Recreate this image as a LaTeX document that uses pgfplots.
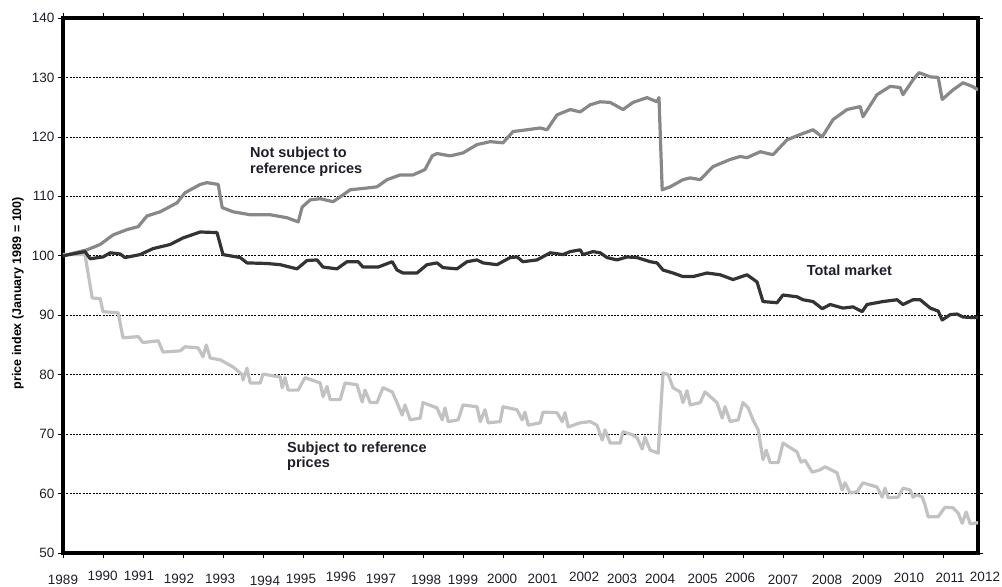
\documentclass[border=0pt]{standalone}
\usepackage{pgfplots}
\pgfplotsset{compat=1.18}
\usepackage{fontspec}
\setmainfont{Liberation Sans}
\definecolor{ns}{HTML}{888888}
\definecolor{tm}{HTML}{333333}
\definecolor{sr}{HTML}{C2C2C2}
\definecolor{txt}{HTML}{1E1E28}
\newcommand{\tfont}{\fontsize{13.5}{16}\selectfont}
\newcommand{\afont}{\bfseries\fontsize{14.5}{16}\selectfont}

\begin{document}
\begin{tikzpicture}
\begin{axis}[name=ax, scale only axis, width=915pt, height=535pt,
  xmin=1989, xmax=2011.875, ymin=50, ymax=140,
  axis line style={line width=3.4pt, black},
  ytick={50,60,...,140}, ymajorgrids,
  grid style={black, line width=0.7pt, dash pattern=on 2pt off 1.3pt},
  tick align=outside, major tick length=5pt,
  tick style={black, line width=0.6pt},
  xtick={1989,...,2011}, xticklabels={},
  ticklabel style={font=\tfont, text=txt},
  /pgf/number format/assume math mode=true,
  extra x ticks={1989.0,1989.99,1990.9,1991.9,1992.93,1994.05,1994.95,1995.95,1996.95,1998.08,1999.0,1999.98,2000.99,2002.03,2002.98,2003.93,2004.99,2005.93,2007.0,2008.1,2009.1,2010.15,2011.18},
  extra x tick labels={\raisebox{-1pt}{1989},\raisebox{3pt}{1990},\raisebox{3pt}{1991},1992,1993,\raisebox{-2pt}{1994},1995,\raisebox{2pt}{1996},1997,\raisebox{-1pt}{1998},\raisebox{-1pt}{1999},2000,2001,\raisebox{2pt}{2002},2003,2004,2005,\raisebox{1pt}{2006},\raisebox{-1pt}{2007},\raisebox{-1pt}{2008},\raisebox{-1pt}{2009},\raisebox{1pt}{2010},\raisebox{1pt}{2011}},
  extra x tick style={major tick length=0pt, grid=none,
    xticklabel style={anchor=base, yshift=-31pt, font=\tfont, text=txt}},
  ylabel={price index (January 1989 = 100)},
  ylabel style={at={(rel axis cs:0,0.486)}, anchor=center, yshift=45pt,
    font=\bfseries\fontsize{12.5}{14}\selectfont, text=black},
  every axis plot/.append style={line width=3.2pt, line join=round},
]
% Not subject to reference prices
\addplot[ns] coordinates {
(1989.00,100.0)(1989.60,101.0)(1989.93,101.9)(1990.25,103.5)(1990.60,104.4)(1990.88,104.9)
(1991.10,106.7)(1991.43,107.4)(1991.85,108.9)(1992.05,110.6)(1992.43,112.0)(1992.60,112.3)
(1992.88,112.0)(1992.98,108.1)(1993.25,107.4)(1993.68,106.9)(1994.18,106.9)(1994.60,106.4)
(1994.88,105.7)(1994.98,108.2)(1995.18,109.4)(1995.43,109.6)(1995.75,109.1)(1995.93,109.9)
(1996.18,111.1)(1996.60,111.4)(1996.85,111.6)(1997.10,112.8)(1997.43,113.6)(1997.75,113.6)
(1998.05,114.5)(1998.23,116.8)(1998.35,117.2)(1998.68,116.8)(1999.00,117.3)(1999.35,118.7)
(1999.68,119.2)(2000.00,119.0)(2000.25,120.9)(2000.60,121.2)(2000.93,121.5)(2001.10,121.2)
(2001.35,123.7)(2001.68,124.6)(2001.93,124.2)(2002.18,125.4)(2002.43,125.9)(2002.68,125.8)
(2003.00,124.6)(2003.25,125.8)(2003.60,126.6)(2003.85,125.9)(2003.90,126.6)(2003.98,111.1)
(2004.18,111.6)(2004.50,112.8)(2004.68,113.1)(2004.93,112.8)(2005.25,115.0)(2005.68,116.2)
(2005.93,116.7)(2006.10,116.5)(2006.43,117.5)(2006.75,117.0)(2007.10,119.5)(2007.43,120.4)
(2007.75,121.2)(2007.98,120.0)(2008.25,122.9)(2008.60,124.6)(2008.93,125.1)(2009.00,123.4)
(2009.35,127.1)(2009.68,128.5)(2009.93,128.3)(2010.00,127.1)(2010.25,129.6)(2010.40,130.8)
(2010.68,130.1)(2010.88,130.0)(2010.98,126.3)(2011.25,127.9)(2011.50,129.1)(2011.73,128.5)
(2011.88,127.9)
};
% Subject to reference prices
\addplot[sr] coordinates {
(1989.00,100.2)(1989.55,100.2)(1989.73,92.9)(1989.93,92.8)(1990.00,90.6)(1990.38,90.4)
(1990.50,86.2)(1990.88,86.4)(1991.00,85.4)(1991.38,85.7)(1991.50,83.8)(1991.93,84.0)
(1992.05,84.7)(1992.38,84.5)(1992.50,83.0)(1992.58,85.0)(1992.68,82.8)(1992.93,82.5)
(1993.25,81.3)(1993.48,80.0)(1993.50,79.1)(1993.60,81.1)(1993.68,78.6)(1993.93,78.6)
(1994.00,80.1)(1994.43,79.6)(1994.48,77.8)(1994.55,79.5)(1994.63,77.4)(1994.88,77.4)
(1995.05,79.5)(1995.43,78.6)(1995.50,76.3)(1995.60,78.0)(1995.68,75.8)(1995.93,75.8)
(1996.05,78.6)(1996.35,78.3)(1996.48,75.4)(1996.55,77.4)(1996.68,75.3)(1996.85,75.3)
(1997.00,77.8)(1997.23,77.1)(1997.35,75.3)(1997.48,73.2)(1997.55,74.9)(1997.68,72.4)
(1997.93,72.7)(1998.00,75.3)(1998.35,74.4)(1998.48,72.4)(1998.55,74.4)(1998.63,72.1)
(1998.88,72.4)(1999.00,74.9)(1999.35,74.6)(1999.43,72.1)(1999.55,74.1)(1999.63,71.9)
(1999.93,72.1)(2000.00,74.6)(2000.35,74.1)(2000.48,72.4)(2000.55,73.7)(2000.63,71.5)
(2000.93,71.9)(2001.00,73.7)(2001.35,73.6)(2001.48,72.1)(2001.55,73.6)(2001.63,71.2)
(2001.93,71.9)(2002.18,72.1)(2002.35,71.5)(2002.48,69.0)(2002.55,70.7)(2002.68,68.5)
(2002.93,68.5)(2003.00,70.4)(2003.23,69.9)(2003.35,69.4)(2003.48,67.5)(2003.55,69.5)
(2003.68,67.3)(2003.88,66.8)(2004.00,80.3)(2004.13,80.0)(2004.25,77.8)(2004.43,77.1)
(2004.50,75.3)(2004.60,77.3)(2004.68,74.9)(2004.93,75.3)(2005.05,77.1)(2005.35,75.3)
(2005.48,72.7)(2005.55,74.6)(2005.68,72.1)(2005.88,72.4)(2006.00,75.3)(2006.13,74.4)
(2006.25,72.4)(2006.38,70.7)(2006.50,65.7)(2006.58,67.3)(2006.68,65.2)(2006.88,65.2)
(2007.00,68.5)(2007.35,67.0)(2007.45,65.3)(2007.55,65.6)(2007.73,63.6)(2007.93,64.0)
(2008.05,64.5)(2008.35,63.5)(2008.48,60.6)(2008.55,61.8)(2008.68,60.1)(2008.85,60.3)
(2009.00,61.8)(2009.35,61.1)(2009.48,59.4)(2009.55,60.9)(2009.63,59.3)(2009.88,59.4)
(2010.00,60.9)(2010.18,60.6)(2010.25,59.4)(2010.35,59.8)(2010.48,59.4)(2010.55,58.1)
(2010.63,56.1)(2010.88,56.1)(2011.05,57.7)(2011.25,57.6)(2011.38,56.7)(2011.48,55.0)
(2011.58,56.9)(2011.68,54.9)(2011.88,55.1)
};
% Total market
\addplot[tm] coordinates {
(1989.00,100.0)(1989.55,100.7)(1989.68,99.5)(1990.00,99.8)(1990.18,100.5)(1990.43,100.3)
(1990.55,99.7)(1990.93,100.2)(1991.25,101.2)(1991.68,101.9)(1992.00,103.0)(1992.43,104.0)
(1992.85,103.9)(1993.00,100.2)(1993.43,99.7)(1993.60,98.8)(1994.10,98.7)(1994.43,98.5)
(1994.85,97.8)(1995.10,99.2)(1995.35,99.3)(1995.50,98.1)(1995.85,97.8)(1996.10,99.0)
(1996.38,99.0)(1996.50,98.1)(1996.88,98.1)(1997.23,99.0)(1997.35,97.6)(1997.50,97.1)
(1997.85,97.1)(1998.10,98.5)(1998.35,98.8)(1998.50,98.0)(1998.85,97.8)(1999.10,99.0)
(1999.35,99.3)(1999.50,98.8)(1999.85,98.5)(2000.18,99.7)(2000.35,99.8)(2000.50,99.0)
(2000.85,99.3)(2001.18,100.5)(2001.50,100.2)(2001.68,100.7)(2001.93,101.0)(2002.00,100.2)
(2002.25,100.7)(2002.43,100.5)(2002.60,99.7)(2002.85,99.3)(2003.10,99.8)(2003.35,99.7)
(2003.68,99.0)(2003.85,98.8)(2004.00,97.6)(2004.25,97.1)(2004.50,96.5)(2004.75,96.5)
(2005.10,97.1)(2005.43,96.8)(2005.75,96.0)(2006.10,96.8)(2006.35,95.6)(2006.50,92.3)
(2006.85,92.1)(2007.00,93.4)(2007.35,93.1)(2007.50,92.6)(2007.75,92.3)(2007.98,91.1)
(2008.18,91.8)(2008.50,91.2)(2008.75,91.4)(2008.98,90.6)(2009.10,91.8)(2009.50,92.3)
(2009.85,92.6)(2010.00,91.8)(2010.25,92.6)(2010.43,92.6)(2010.68,91.2)(2010.88,90.7)
(2010.98,89.2)(2011.18,90.1)(2011.35,90.2)(2011.50,89.7)(2011.75,89.6)(2011.88,89.6)
};
\node[anchor=base west, inner sep=0pt, font=\afont, text=txt] at (axis cs:1993.675,116.5) {Not subject to};
\node[anchor=base west, inner sep=0pt, font=\afont, text=txt] at (axis cs:1993.675,113.8) {reference prices};
\node[anchor=base west, inner sep=0pt, font=\afont, text=txt] at (axis cs:2007.59,96.63) {Total market};
\node[anchor=base west, inner sep=0pt, font=\afont, text=txt] at (axis cs:1994.6,66.84) {Subject to reference};
\node[anchor=base west, inner sep=0pt, font=\afont, text=txt] at (axis cs:1994.6,64.31) {prices};
\end{axis}
\node[anchor=base, font=\tfont, text=txt] at ([shift={(7pt,-30pt)}]ax.south east) {\raisebox{1pt}{2012}};
\pgfresetboundingbox
\path[use as bounding box] ([shift={(-63pt,-34pt)}]ax.south west) rectangle ([shift={(24pt,18pt)}]ax.north east);
\end{tikzpicture}
\end{document}
